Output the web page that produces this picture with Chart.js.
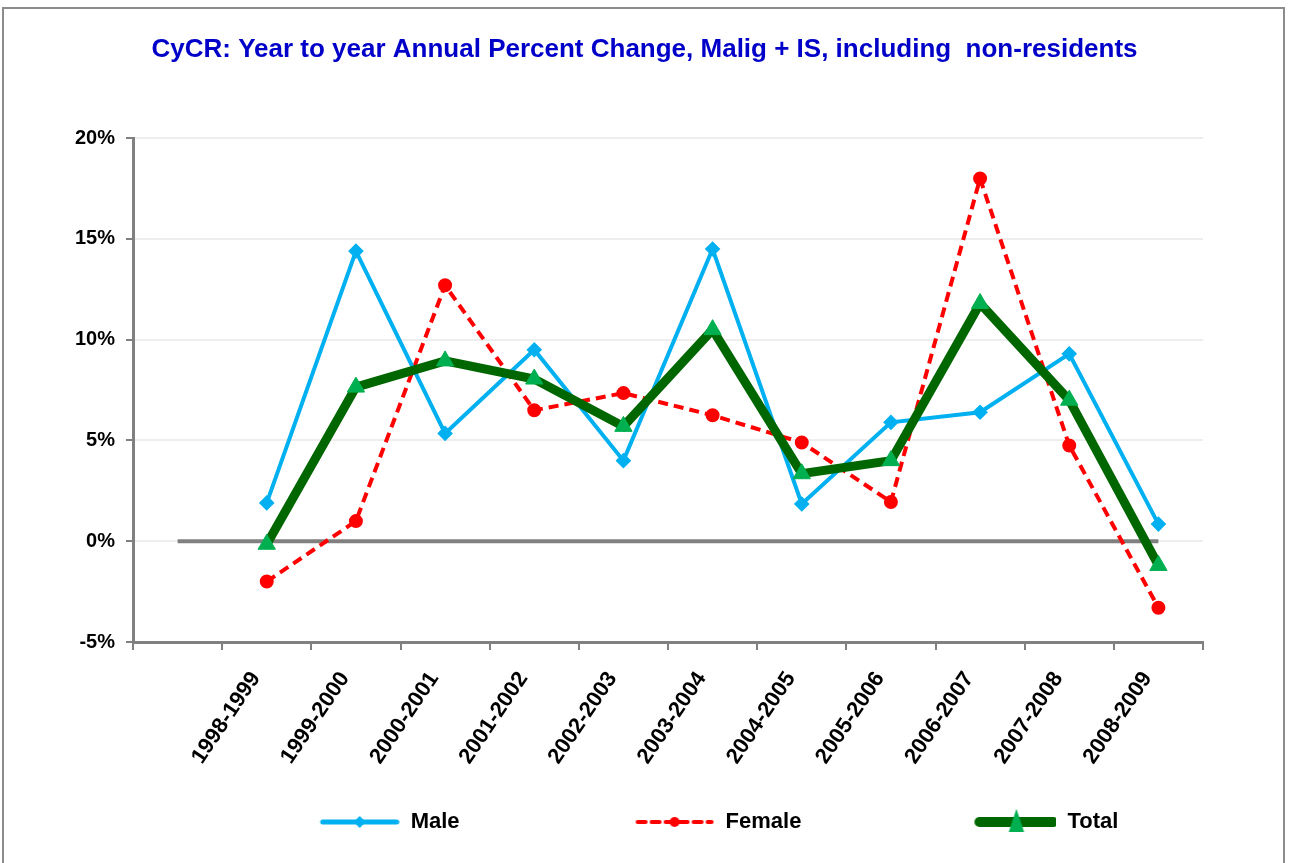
<!DOCTYPE html>
<html>
<head>
<meta charset="utf-8">
<script src="https://cdn.jsdelivr.net/npm/chart.js@4.4.1/dist/chart.umd.min.js"></script>
<style>
  html,body{margin:0;padding:0;background:#fff;overflow:hidden;}
  #frame{position:absolute;left:2px;top:7px;width:1283px;height:900px;border:2px solid #8c8c8c;box-sizing:border-box;}
  #wrap{position:absolute;left:0;top:0;width:1289px;height:863px;}
</style>
</head>
<body>
<div id="frame"></div>
<div id="wrap"><canvas id="myChart" width="1289" height="863"></canvas></div>
<script>
// categories (first slot is empty, the gray zero line starts there)
const years=['','1998-1999','1999-2000','2000-2001','2001-2002','2002-2003','2003-2004','2004-2005','2005-2006','2006-2007','2007-2008','2008-2009'];
// annual percent change, %
const male  =[null,1.9,14.4,5.35,9.5,4.0,14.5,1.85,5.9,6.4,9.3,0.85];
const female=[null,-2.0,1.0,12.7,6.5,7.35,6.25,4.9,1.95,18.0,4.75,-3.3];
const total =[null,-0.15,7.65,8.95,8.05,5.7,10.5,3.35,4.0,11.8,7.0,-1.2];
const zero  =[0,0,0,0,0,0,0,0,0,0,0,0];
const yTicks=[-5,0,5,10,15,20];

const LEG_GAP=149;
const FONT="'Liberation Sans', Arial, sans-serif";

// legend sample: empty lead space + line with marker
const legendImg=(col,w,dash,mark,mcol,rad)=>{
    var c=document.createElement('canvas');
    c.width=LEG_GAP+80; c.height=30;
    var g=c.getContext('2d');
    g.strokeStyle=col; g.lineWidth=w; g.lineCap='round';
    g.setLineDash(dash);
    g.beginPath(); g.moveTo(LEG_GAP+3,15); g.lineTo(LEG_GAP+77,15); g.stroke();
    g.setLineDash([]);
    var cx=LEG_GAP+40, cy=15;
    g.fillStyle=mcol;
    g.beginPath();
    if(mark=='diamond'){
        g.moveTo(cx,cy-rad); g.lineTo(cx+rad,cy); g.lineTo(cx,cy+rad); g.lineTo(cx-rad,cy);
    } else if(mark=='circle'){
        g.arc(cx,cy,rad,0,Math.PI*2);
    } else {
        g.moveTo(cx,cy-rad*1.2); g.lineTo(cx+rad*0.7,cy+rad*0.9); g.lineTo(cx-rad*0.7,cy+rad*0.9);
    }
    g.closePath(); g.fill();
    return c;
};
var legImgs=[
    legendImg('#00B0F0',5,[],'diamond','#00B0F0',6),
    legendImg('#FF0000',4,[8,6],'circle','#FF0000',5),
    legendImg('#006600',10,[],'triangle','#00B050',11)
];

var ctx=document.getElementById('myChart');
var lchart=new Chart(ctx,{
    type:'line',
    data:{
        labels:years,
        datasets:[
            {label:'Total',data:total,borderColor:'#006600',borderWidth:9,
             pointStyle:'triangle',pointRadius:10,pointBackgroundColor:'#00B050',pointBorderColor:'#00B050',pointBorderWidth:1,order:0},
            {label:'Male',data:male,borderColor:'#00B0F0',borderWidth:4,
             pointStyle:'rectRot',pointRadius:5,pointBackgroundColor:'#00B0F0',pointBorderColor:'#00B0F0',order:1},
            {label:'Female',data:female,borderColor:'#FF0000',borderWidth:4,borderDash:[10,6],
             pointStyle:'circle',pointRadius:5,pointBackgroundColor:'#FF0000',pointBorderColor:'#FF0000',order:2},
            {label:'zero',data:zero,borderColor:'#808080',borderWidth:4,pointRadius:0,order:3}
        ]
    },
    options:{
        responsive:false,
        animation:false,
        layout:{padding:{left:0,right:0,top:0,bottom:20}},
        plugins:{
            title:{
                display:true,
                text:'CyCR: Year to year Annual Percent Change, Malig + IS, including  non-residents',
                color:'#0000C8',
                font:{family:FONT,size:26,weight:'bold'},
                padding:{top:34,bottom:73}
            },
            legend:{
                position:'bottom',
                labels:{
                    usePointStyle:true,
                    pointStyleWidth:LEG_GAP+80,
                    padding:26,
                    color:'#000',
                    font:{family:FONT,size:22,weight:'bold'},
                    generateLabels:(ch)=>{
                        var order=[1,2,0];
                        return order.map((di,n)=>({
                            text:ch.data.datasets[di].label,
                            pointStyle:legImgs[n],
                            fillStyle:'transparent',strokeStyle:'transparent',lineWidth:0,
                            fontColor:'#000',hidden:false,datasetIndex:di
                        }));
                    }
                }
            },
            tooltip:{enabled:false}
        },
        scales:{
            x:{
                offset:true,
                afterFit:(s)=>{s.height=143;},
                grid:{offset:true,drawOnChartArea:false,color:'#808080',lineWidth:2,tickLength:8},
                border:{color:'#808080',width:3},
                ticks:{autoSkip:false,minRotation:56,maxRotation:56,color:'#000',padding:17,labelOffset:-11,
                       font:{family:FONT,size:22,weight:'bold'}}
            },
            y:{
                min:-5,max:20,
                afterFit:(s)=>{s.width=133;},
                afterBuildTicks:(s)=>{s.ticks=yTicks.map(v=>({value:v}));},
                grid:{color:'#eeeeee',lineWidth:2,tickColor:'#808080',tickLength:7},
                border:{color:'#808080',width:3},
                ticks:{color:'#000',padding:11,font:{family:FONT,size:20,weight:'bold'},
                       callback:(v)=>v+'%'}
            },
            yr:{
                position:'right',
                afterFit:(s)=>{s.width=86;},
                grid:{display:false},border:{display:false},ticks:{display:false}
            }
        }
    }
});
</script>
</body>
</html>
